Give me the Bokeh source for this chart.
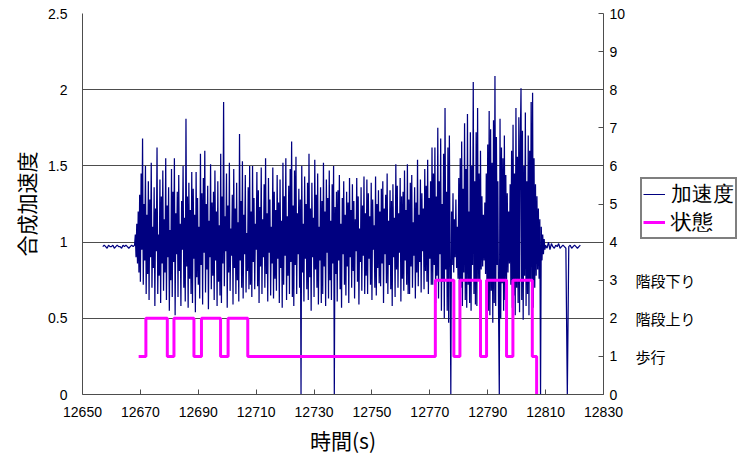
from bokeh.plotting import figure
from bokeh.layouts import column
from bokeh.models import Range1d, LinearAxis, FixedTicker, Legend, LegendItem, ColumnDataSource
from bokeh.embed import file_html
from bokeh.resources import INLINE

# ---------------- data ----------------
# quiet period before (0.5 s samples)
acc_pre_start = 12657.0
acc_pre_step = 0.5
acc_pre = [0.97, 0.98, 0.97, 0.96, 0.98, 0.97, 0.97, 0.98, 0.96, 0.97, 0.98,
           0.97, 0.97, 0.96, 0.98, 0.97, 0.98, 0.97, 0.96, 0.97, 0.98, 0.97]

# walking / stairs up (0.25 s samples)
acc_walk_start = 12668.0
acc_walk_step = 0.25
acc_walk = [
    0.98, 1.05, 0.90, 1.12, 0.86, 1.20, 0.80, 1.31, 0.74, 1.45, 0.95, 1.68, 0.72, 1.25, 0.88, 1.50, 0.66, 1.18, 0.79, 1.40,
    0.62, 1.28, 0.90, 1.52, 0.70, 1.10, 0.83, 1.36, 0.58, 1.22, 0.94, 1.62, 0.66, 1.05, 0.78, 1.41, 0.60, 1.30, 0.86, 1.47,
    0.68, 1.15, 0.80, 1.55, 0.62, 1.24, 0.90, 1.36, 0.55, 1.08, 0.75, 1.48, 0.64, 1.33, 0.87, 1.55, 0.52, 1.19, 0.92, 1.33,
    0.64, 1.44, 0.81, 1.12, 0.58, 1.27, 0.95, 1.50, 0.70, 1.16, 0.61, 1.81, 0.84, 1.30, 0.57, 1.39, 0.76, 1.21, 0.66, 1.46,
    0.60, 1.35, 0.89, 1.18, 0.54, 1.46, 0.77, 1.29, 0.72, 1.10, 0.63, 1.58, 0.85, 1.32, 0.59, 1.42, 0.93, 1.60, 0.67, 1.25,
    0.82, 1.37, 0.56, 1.14, 0.90, 1.51, 0.69, 1.26, 0.78, 1.33, 0.62, 1.47, 0.88, 1.20, 0.58, 1.40, 0.74, 1.11, 0.65, 1.58,
    0.60, 1.30, 0.86, 1.92, 0.71, 1.17, 0.94, 1.45, 0.57, 1.24, 0.80, 1.52, 0.68, 1.09, 0.91, 1.31, 0.59, 1.48, 0.83, 1.22,
    0.66, 1.39, 0.75, 1.13, 0.61, 1.71, 0.88, 1.27, 0.70, 1.53, 0.63, 1.18, 0.92, 1.44, 0.67, 1.06, 0.81, 1.36, 0.69, 1.50,
    0.72, 1.20, 0.64, 1.50, 0.87, 1.29, 0.69, 1.12, 0.95, 1.46, 0.71, 1.34, 0.60, 1.23, 0.84, 1.49, 0.66, 1.15, 0.90, 1.38,
    0.70, 1.55, 0.79, 1.19, 0.61, 1.42, 0.93, 1.28, 0.65, 1.10, 0.86, 1.49, 0.63, 1.33, 0.76, 1.21, 0.68, 1.44, 0.89, 1.26,
    0.60, 1.41, 0.83, 1.14, 0.57, 1.52, 0.72, 1.30, 0.91, 1.55, 0.62, 1.17, 0.78, 1.37, 0.66, 1.48, 0.87, 1.66, 0.64, 1.24,
    0.58, 1.47, 0.85, 1.56, 0.66, 1.19, 0.92, 1.35, 0.70, 1.28, 0.00, 1.50, 0.80, 1.12, 0.61, 1.43, 0.89, 1.25, 0.69, 1.39,
    0.62, 1.58, 0.77, 1.22, 0.55, 1.39, 0.90, 1.16, 0.64, 1.54, 0.82, 1.31, 0.70, 1.45, 0.59, 1.10, 0.88, 1.36, 0.60, 1.27,
    0.66, 1.52, 0.84, 1.20, 0.58, 1.41, 0.93, 1.29, 0.63, 1.47, 0.75, 1.14, 0.62, 1.38, 0.86, 1.50, 0.00, 1.23, 0.79, 1.33,
    0.61, 1.34, 0.88, 1.44, 0.69, 1.12, 0.57, 1.29, 0.92, 1.40, 0.72, 1.18, 0.65, 1.33, 0.84, 1.26, 0.60, 1.42, 0.90, 1.21,
    0.70, 1.38, 0.81, 1.27, 0.63, 1.15, 0.94, 1.42, 0.74, 1.30, 0.59, 1.09, 0.87, 1.36, 0.68, 1.24, 0.91, 1.43, 0.66, 1.19,
    0.78, 1.41, 0.66, 1.32, 0.89, 1.17, 0.72, 1.39, 0.62, 1.28, 0.95, 1.11, 0.70, 1.43, 0.65, 1.25, 0.83, 1.34, 0.73, 1.20,
    0.71, 1.35, 0.86, 1.40, 0.60, 1.22, 0.92, 1.31, 0.73, 1.45, 0.66, 1.14, 0.85, 1.34, 0.69, 1.27, 0.58, 1.38, 0.90, 1.16,
    0.64, 1.51, 0.82, 1.37, 0.70, 1.19, 0.93, 1.42, 0.61, 1.30, 0.76, 1.33, 0.68, 1.47, 0.88, 1.21, 0.72, 1.51, 0.66, 1.28,
    0.66, 1.39, 0.84, 1.44, 0.70, 1.13, 0.91, 1.36, 0.63, 1.26, 0.80, 1.54, 0.71, 1.18, 0.87, 1.41, 0.67, 1.32, 0.94, 1.22,
    0.69, 1.48, 0.81, 1.37, 0.74, 1.54, 0.66, 1.29, 0.89, 1.40, 0.72, 1.62,
]

# stairs down (0.25 s samples)
acc_stairs_start = 12771.0
acc_stairs_step = 0.25
acc_stairs = [
    0.72, 1.45, 0.85, 1.62, 0.60, 1.30, 0.78, 1.75, 0.63, 1.40, 0.92, 1.68, 0.55, 1.25, 0.74, 1.58, 0.50, 1.88, 0.82, 1.33,
    0.55, 1.62, 0.47, 1.70, 0.88, 0.00, 1.20, 0.85, 1.32, 0.80, 1.15, 0.90, 1.28, 0.83, 1.10, 0.76, 1.42, 0.62, 1.55, 0.70,
    1.66, 0.58, 1.35, 0.80, 1.78, 0.62, 1.48, 0.57, 1.84, 0.72, 1.20, 0.60, 1.72, 0.55, 1.50, 0.85, 2.05, 0.66, 1.40, 0.59,
    1.72, 0.58, 1.88, 0.75, 1.45, 0.63, 1.60, 0.82, 1.30, 0.84, 1.18, 0.88, 1.26, 0.79, 1.45, 0.66, 1.64, 0.55, 1.86, 0.52,
    1.74, 0.68, 1.52, 0.47, 1.80, 0.60, 2.09, 0.58, 1.69, 0.85, 1.40, 0.53, 0.00, 1.81, 0.50, 1.62, 0.73, 1.55, 0.55, 1.70,
    0.62, 1.44, 0.74, 1.32, 0.80, 1.20, 0.86, 1.38, 0.72, 1.60, 0.57, 1.77, 0.65, 1.45, 0.52, 1.88, 0.70, 1.56, 0.60, 1.82,
    0.54, 1.66, 2.01, 0.62, 1.73, 0.49, 1.50, 0.78, 1.85, 0.58, 1.40, 0.66, 1.70, 0.52, 1.60, 0.75, 1.92, 0.61, 1.98, 0.57,
    1.55, 0.70, 1.38, 0.78, 1.30, 0.82, 1.22, 0.76, 1.15, 0.00, 1.10, 0.88, 1.05, 0.92, 1.02, 0.95,
]

# quiet period after (0.5 s samples)
acc_post_start = 12810.0
acc_post_step = 0.5
acc_post = [0.98, 0.96, 1.00, 0.95, 0.99, 0.97, 0.96, 0.98, 0.97, 0.99, 0.96,
            0.97, 0.98, 0.97, 0.96, 0.00, 0.97, 0.98, 0.96, 0.97, 0.98, 0.97,
            0.96, 0.97, 0.98]

# state (1 = 歩行, 2 = 階段上り, 3 = 階段下り)
state_t = [12669.4, 12671.9, 12679.3, 12681.6, 12688.5, 12691.1, 12697.7,
           12700.3, 12707.1, 12771.9, 12778.3, 12780.4, 12787.5, 12789.6,
           12796.5, 12798.7, 12805.4, 12806.9]
state_v = [1, 2, 1, 2, 1, 2, 1, 2, 1, 3, 1, 3, 1, 3, 1, 3, 1, 0]

x_ticks = [12650, 12670, 12690, 12710, 12730, 12750, 12770, 12790, 12810, 12830]
y_ticks = [0, 0.5, 1, 1.5, 2, 2.5]
y_tick_labels = ["0", "0.5", "1", "1.5", "2", "2.5"]
y2_ticks = [0, 1, 2, 3, 4, 5, 6, 7, 8, 9, 10]
state_names = {1: "歩行", 2: "階段上り", 3: "階段下り"}
legend_labels = ["加速度", "状態"]

# ---------------- assemble ----------------
def seg_times(start, step, vals):
    return [start + step * i for i in range(len(vals))]

acc_t = (seg_times(acc_pre_start, acc_pre_step, acc_pre)
         + seg_times(acc_walk_start, acc_walk_step, acc_walk)
         + seg_times(acc_stairs_start, acc_stairs_step, acc_stairs)
         + seg_times(acc_post_start, acc_post_step, acc_post))
acc_v = acc_pre + acc_walk + acc_stairs + acc_post

acc_src = ColumnDataSource(dict(t=acc_t, v=acc_v))
state_src = ColumnDataSource(dict(t=state_t, v=state_v))

NUM_FONT = "Liberation Sans"
JP_FONT = "Noto Sans CJK JP"
AX_COLOR = "#4d4d4d"
ACC_COLOR = "#000080"
STATE_COLOR = "#FF00FF"

p = figure(width=744, height=457, output_backend="svg", toolbar_location=None,
           x_range=Range1d(12650, 12830), y_range=Range1d(0, 2.5),
           min_border_left=82, min_border_right=141, min_border_top=13,
           min_border_bottom=62)
p.outline_line_color = None
p.background_fill_color = "white"
p.border_fill_color = "white"

p.extra_y_ranges = {"state": Range1d(0, 10)}

p.line("t", "v", source=acc_src, line_color=ACC_COLOR, line_width=1.25)
p.step("t", "v", source=state_src, mode="after", y_range_name="state",
       line_color=STATE_COLOR, line_width=3)

# x axis
xa = p.xaxis[0]
xa.ticker = FixedTicker(ticks=x_ticks)
xa.major_tick_in = 5
xa.major_tick_out = 0
xa.minor_tick_line_color = None
xa.axis_line_color = AX_COLOR
xa.major_tick_line_color = AX_COLOR
xa.major_label_text_font = NUM_FONT
xa.major_label_text_font_size = "14px"
xa.major_label_text_color = "black"
xa.major_label_standoff = 12
xa.axis_label = "時間(s)"
xa.axis_label_text_font = JP_FONT
xa.axis_label_text_font_size = "21px"
xa.axis_label_text_font_style = "normal"
xa.axis_label_text_color = "black"
xa.axis_label_standoff = 5

# left axis
ya = p.yaxis[0]
ya.ticker = FixedTicker(ticks=y_ticks)
ya.major_label_overrides = {t: l for t, l in zip(y_ticks, y_tick_labels)}
ya.major_tick_in = 0
ya.major_tick_out = 0
ya.minor_tick_line_color = None
ya.axis_line_color = AX_COLOR
ya.major_label_text_font = NUM_FONT
ya.major_label_text_font_size = "14px"
ya.major_label_text_color = "black"
ya.major_label_standoff = 15
ya.axis_label = "合成加速度"
ya.axis_label_text_font = JP_FONT
ya.axis_label_text_font_size = "21px"
ya.axis_label_text_font_style = "normal"
ya.axis_label_text_color = "black"
ya.axis_label_standoff = 4

p.xgrid.grid_line_color = None
p.ygrid.grid_line_color = AX_COLOR
p.ygrid.grid_line_width = 1
p.ygrid.ticker = FixedTicker(ticks=y_ticks)

# right numeric axis
ra = LinearAxis(y_range_name="state", ticker=FixedTicker(ticks=y2_ticks))
ra.major_tick_in = 5
ra.major_tick_out = 0
ra.minor_tick_line_color = None
ra.axis_line_color = AX_COLOR
ra.major_tick_line_color = AX_COLOR
ra.major_label_text_font = NUM_FONT
ra.major_label_text_font_size = "14px"
ra.major_label_text_color = "black"
ra.major_label_standoff = 6
p.add_layout(ra, "right")

# right category labels
rc = LinearAxis(y_range_name="state", ticker=FixedTicker(ticks=list(state_names.keys())))
rc.major_label_overrides = state_names
rc.axis_line_color = None
rc.major_tick_line_color = None
rc.minor_tick_line_color = None
rc.major_tick_in = 0
rc.major_tick_out = 0
rc.major_label_text_font = JP_FONT
rc.major_label_text_font_size = "15px"
rc.major_label_text_color = "black"
rc.major_label_standoff = 7
p.add_layout(rc, "right")

# ---------------- legend (small overlay figure placed right of the frame) ----------------
lf = figure(width=110, height=64, output_backend="svg", toolbar_location=None,
            x_axis_location=None, y_axis_location=None, min_border=0,
            x_range=Range1d(12650, 12830), y_range=Range1d(0, 2.5),
            styles={"position": "fixed", "left": "638px", "top": "175px"})
lf.outline_line_color = None
lf.background_fill_alpha = 0
lf.border_fill_alpha = 0
lf.grid.visible = False
l_acc = lf.line("t", "v", source=acc_src, line_color=ACC_COLOR, line_width=1, visible=False)
l_state = lf.line("t", "v", source=state_src, line_color=STATE_COLOR, line_width=3, visible=False)
legend = Legend(items=[LegendItem(label=legend_labels[0], renderers=[l_acc]),
                       LegendItem(label=legend_labels[1], renderers=[l_state])],
                location="top_left")
legend.border_line_color = "black"
legend.border_line_width = 2
legend.background_fill_color = "white"
legend.background_fill_alpha = 1
legend.label_text_font = NUM_FONT
legend.label_text_font_size = "21px"
legend.label_text_line_height = 1.0
legend.label_text_color = "black"
legend.glyph_width = 22
legend.glyph_height = 18
legend.label_height = 18
legend.label_standoff = 6
legend.padding = 1
legend.spacing = 0
legend.margin = 2
lf.add_layout(legend)

layout = column(p, lf)
open("out.html", "w").write(file_html(layout, INLINE))
